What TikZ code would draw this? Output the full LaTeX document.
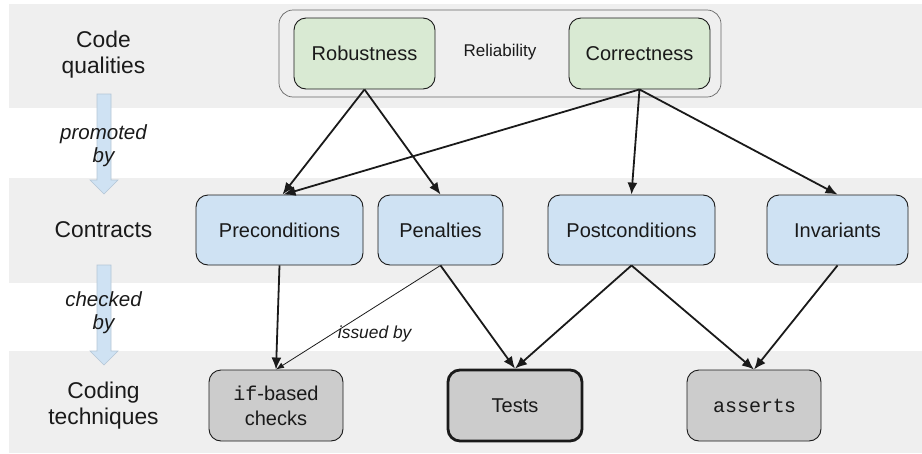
\documentclass[tikz,border=0pt]{standalone}
\usepackage{fontspec}
\setmainfont{Liberation Sans}
\setmonofont{Liberation Mono}
\usetikzlibrary{arrows.meta,calc}
\definecolor{band}{HTML}{EFEFEF}
\definecolor{qgreen}{HTML}{D9EAD3}
\definecolor{cblue}{HTML}{CFE2F3}
\definecolor{tgray}{HTML}{CCCCCC}
\definecolor{bborder}{HTML}{B4C6D6}
\definecolor{ink}{HTML}{1A1A1A}
\tikzset{
  box/.style={draw=ink, line width=0.9pt, rounded corners=12pt, align=center, text=ink,
    font=\fontsize{20}{25}\selectfont, inner sep=0pt},
  qbox/.style={box, fill=qgreen, minimum width=141pt, minimum height=71pt},
  cbox/.style={box, fill=cblue, minimum height=70pt},
  tbox/.style={box, fill=tgray, minimum width=134pt, minimum height=71pt},
  rowlabel/.style={align=center, text=ink, font=\fontsize{22.8}{26}\selectfont},
  verb/.style={align=center, text=ink, font=\fontsize{20.5}{23}\selectfont\itshape},
  link/.style={draw=ink, line width=1.8pt, -{Latex[length=12pt,width=10pt]}},
  thinlink/.style={draw=ink, line width=0.8pt, -{Latex[length=8pt,width=6pt]}},
  blockarrow/.style={fill=cblue, draw=bborder, line width=0.6pt},
}
\begin{document}
\begin{tikzpicture}[x=1pt,y=-1pt]
\useasboundingbox (0,0) rectangle (922,453);
% bands
\fill[band] (9,4) rectangle (922,108);
\fill[band] (9,178) rectangle (922,283);
\fill[band] (9,351) rectangle (922,453);
% block arrows
\draw[blockarrow] (97,94) -- (111,94) -- (111,180) -- (118,180) -- (104,194) -- (90,180) -- (97,180) -- cycle;
\draw[blockarrow] (97,265) -- (111,265) -- (111,351) -- (118,351) -- (104,365) -- (90,351) -- (97,351) -- cycle;
% row labels
\node[rowlabel] (lq) at (103.5,55) {Code\\qualities};
\node[rowlabel] (lc) at (103.5,230) {Contracts};
\node[rowlabel] (lt) at (103.5,406) {Coding\\techniques};
\node[verb] (vp) at (103.5,146) {promoted\\by};
\node[verb] (vc) at (103.5,313) {checked\\by};
% reliability group
\draw[draw=gray!80!black, line width=0.7pt, rounded corners=14pt, fill=band] (279,10) rectangle (721,97);
\node[text=ink, font=\fontsize{17}{20}\selectfont] (rel) at (500,52) {Reliability};
% qualities
\node[qbox] (rob) at (364.5,53.5) {Robustness};
\node[qbox] (cor) at (639.5,53.5) {Correctness};
% contracts
\node[cbox, minimum width=167pt] (pre) at (279.5,230) {Preconditions};
\node[cbox, minimum width=125pt] (pen) at (440.5,230) {Penalties};
\node[cbox, minimum width=167pt] (post) at (631.5,230) {Postconditions};
\node[cbox, minimum width=141pt] (inv) at (837.5,230) {Invariants};
% techniques
\node[tbox] (ifc) at (276,405.5) {\texttt{if}-based\\checks};
\node[tbox, line width=2.8pt, minimum width=134pt, minimum height=71pt] (tst) at (515,405.5) {Tests};
\node[tbox] (asr) at (754,405.5) {\texttt{assert}s};
% connectors
\draw[link] (rob.south) -- ($(pre.north)+(3,0)$);
\draw[link] (rob.south) -- (pen.north);
\draw[link] (cor.south) -- ($(pre.north)+(4,0)$);
\draw[link] (cor.south) -- (post.north);
\draw[link] (cor.south) -- (inv.north);
\draw[link] (pre.south) -- (ifc.north);
\draw[thinlink] (pen.south) -- (ifc.north) node[pos=0.4, yshift=-27pt, text=ink, font=\fontsize{17.4}{20}\selectfont\itshape] (iss) {issued by};
\draw[link] (pen.south) -- (tst.north);
\draw[link] (post.south) -- (tst.north);
\draw[link] (post.south) -- (asr.north);
\draw[link] (inv.south) -- (asr.north);
\end{tikzpicture}
\end{document}
